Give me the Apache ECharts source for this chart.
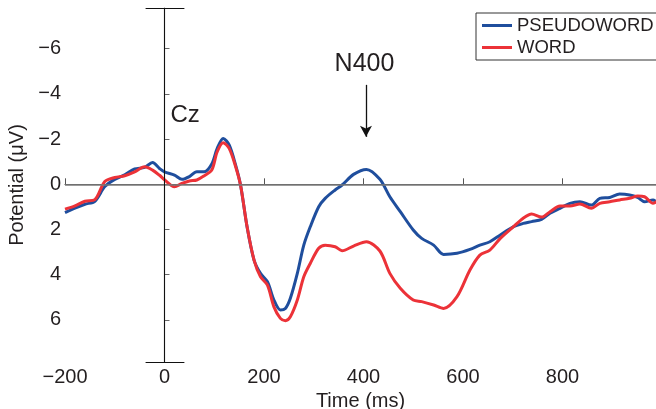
<!DOCTYPE html>
<html>
<head>
<meta charset="utf-8">
<script src="https://cdn.jsdelivr.net/npm/echarts@6/dist/echarts.min.js"></script>
<style>
html,body{margin:0;padding:0;background:#fff;}
#c{width:656px;height:409px;}
</style>
</head>
<body>
<div id="c"></div>
<script>
// time points (ms)
var times = [-200,-180,-160,-140,-120,-100,-80,-60,-40,-24,-10,0,20,35,50,65,80,95,106,118,130,143,153,166,180,193,207,220,233,243,253,267,280,293,310,323,343,357,380,406,433,453,474,500,517,541,561,588,614,634,654,675,701,721,738,758,775,795,815,835,858,875,895,915,935,951,965,982,990];
// PSEUDOWORD potential (µV)
var pseudoword = [1.25,1.05,0.88,0.75,0.1,-0.22,-0.42,-0.68,-0.75,-0.96,-0.7,-0.55,-0.41,-0.22,-0.34,-0.56,-0.56,-0.9,-1.59,-2.03,-1.74,-0.85,0.05,1.88,3.35,3.94,4.31,5.12,5.56,5.49,5.04,3.94,2.69,1.88,0.99,0.62,0.25,0.03,-0.44,-0.66,-0.22,0.55,1.21,2.02,2.39,2.69,3.1,3.05,2.88,2.69,2.54,2.24,1.88,1.73,1.65,1.55,1.28,1.06,0.84,0.77,0.92,0.62,0.58,0.43,0.47,0.58,0.77,0.69,0.8];
// WORD potential (µV)
var word = [1.1,0.95,0.75,0.68,-0.12,-0.3,-0.38,-0.55,-0.78,-0.63,-0.4,-0.2,0.11,-0.04,-0.15,-0.19,-0.38,-0.63,-1.44,-1.84,-1.59,-0.78,0.05,1.88,3.35,4.09,4.46,5.42,5.93,6.03,5.86,5.12,4.09,3.5,2.83,2.69,2.76,2.94,2.73,2.54,2.95,3.94,4.6,5.12,5.19,5.34,5.49,4.97,3.79,3.13,2.91,2.39,1.88,1.5,1.31,1.45,1.21,0.96,0.96,0.87,1.06,0.84,0.77,0.69,0.62,0.52,0.55,0.84,0.75];
var xTicks = [-200,0,200,400,600,800];
var yTicks = [-6,-4,-2,0,2,4,6];
var seriesNames = ['PSEUDOWORD','WORD'];

function pairs(vals){ return times.map(function(t,i){ return [t, vals[i]]; }); }
var txt = '#231f20';
var fontFam = 'Liberation Sans, Arial, sans-serif';

var chart = echarts.init(document.getElementById('c'), null, {renderer:'canvas'});
chart.setOption({
  animation:false,
  backgroundColor:'#fff',
  textStyle:{fontFamily:fontFam},
  grid:{left:65,right:0,top:8,bottom:47,containLabel:false,outerBoundsMode:'none'},
  legend:{
    data:seriesNames, orient:'vertical', left:476, top:13,
    padding:[3,4,3,6], itemGap:3, itemWidth:30, itemHeight:3, icon:'rect',
    borderColor:'#333', borderWidth:1, backgroundColor:'#fff',
    textStyle:{fontSize:18.5,color:txt,fontFamily:fontFam}
  },
  xAxis:{
    type:'value', min:-200, max:988,
    name:'Time (ms)', nameLocation:'middle', nameGap:20,
    nameTextStyle:{fontSize:20,color:txt},
    axisLine:{show:true,lineStyle:{color:'#555',width:1.2}},
    axisTick:{show:true,inside:true,length:6,customValues:xTicks,lineStyle:{color:'#555'}},
    axisLabel:{customValues:xTicks,fontSize:20,color:txt,margin:5,
      formatter:function(v){return String(v).replace('-','\u2212');}},
    splitLine:{show:false}
  },
  yAxis:{
    type:'value', inverse:true, min:-7.8, max:7.86,
    name:'Potential (\u03bcV)', nameLocation:'middle', nameGap:31,
    nameTextStyle:{fontSize:20,color:txt},
    axisLine:{show:true,lineStyle:{color:'#666',width:1.2}},
    axisTick:{show:true,inside:true,length:5,customValues:yTicks,lineStyle:{color:'#666'}},
    axisLabel:{customValues:yTicks,fontSize:20,color:txt,margin:4,
      formatter:function(v){return String(v).replace('-','\u2212');}},
    splitLine:{show:false}
  },
  series:[
    {
      type:'line', name:'_ref', data:[], z:1, silent:true,
      markLine:{
        silent:true, symbol:['none','none'], animation:false,
        label:{show:false},
        data:[
          [{coord:[-200,0],lineStyle:{color:'#7a7a7a',width:1.6,type:'solid'}},{coord:[988,0]}],
          [{coord:[0,-7.8],lineStyle:{color:'#111',width:1,type:'solid'}},{coord:[0,7.86]}],
          [{coord:[-38,-7.8],lineStyle:{color:'#111',width:1,type:'solid'}},{coord:[40,-7.8]}],
          [{coord:[-38,7.86],lineStyle:{color:'#111',width:1,type:'solid'}},{coord:[40,7.86]}]
        ]
      }
    },
    {
      type:'line', name:'_arrow', data:[], z:1, silent:true,
      markLine:{
        silent:true, symbol:['none','arrow'], symbolSize:[9,11], animation:false,
        label:{show:false},
        lineStyle:{color:'#111',width:1.3,type:'solid'},
        data:[[{coord:[405,-4.4]},{coord:[405,-2.1]}]]
      }
    },
    {name:'PSEUDOWORD', type:'line', data:pairs(pseudoword), showSymbol:false, symbol:'none',
      smooth:0.3, z:3, lineStyle:{color:'#1f4e9d',width:3}, itemStyle:{color:'#1f4e9d'}},
    {name:'WORD', type:'line', data:pairs(word), showSymbol:false, symbol:'none',
      smooth:0.3, z:4, lineStyle:{color:'#ec3238',width:3}, itemStyle:{color:'#ec3238'}}
  ]
});

var cz = chart.convertToPixel({gridIndex:0}, [12, -3.07]);
var n4 = chart.convertToPixel({gridIndex:0}, [402, -5.3]);
chart.setOption({
  graphic:[
    {type:'text', x:cz[0], y:cz[1], style:{text:'Cz', fontSize:24, fill:txt, fontFamily:fontFam, textAlign:'left', textVerticalAlign:'middle'}},
    {type:'text', x:n4[0], y:n4[1], style:{text:'N400', fontSize:25, fill:txt, fontFamily:fontFam, textAlign:'center', textVerticalAlign:'middle'}}
  ]
});
</script>
</body>
</html>
